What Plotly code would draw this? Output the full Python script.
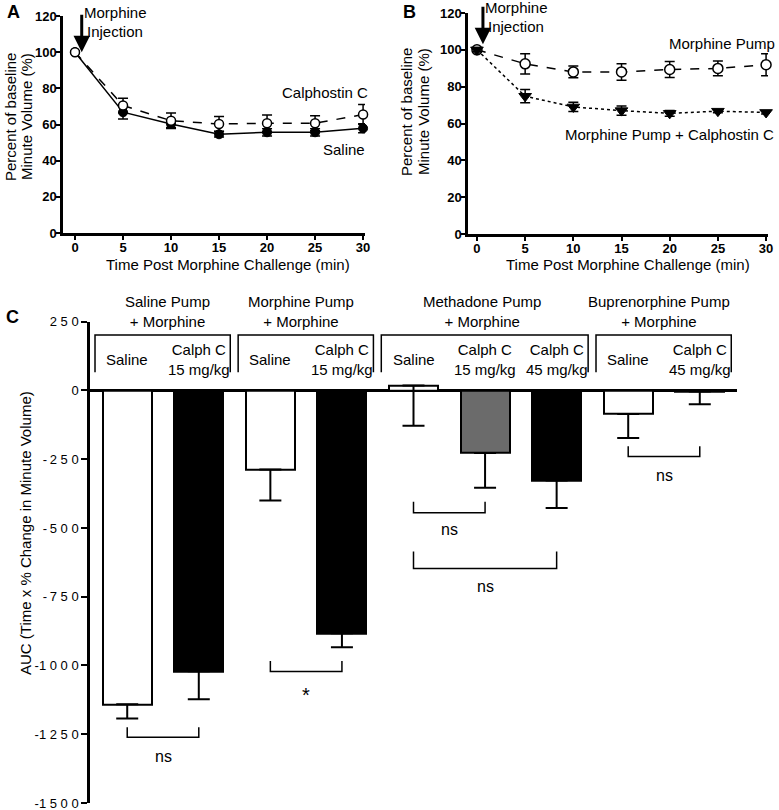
import plotly.graph_objects as go

W, H = 779, 810
FONT = "Arial, 'Liberation Sans', sans-serif"

# ---------------- data ----------------
time_min = [0, 5, 10, 15, 20, 25, 30]

a_saline = [100, 66.8, 60.3, 54.6, 55.7, 55.7, 57.9]
a_saline_err = [0.5, 3.7, 2.0, 1.5, 2.0, 2.0, 2.5]
a_calph = [100, 70.5, 62.1, 60.3, 60.7, 60.7, 65.5]
a_calph_err = [0.5, 4.0, 4.3, 4.1, 4.6, 4.2, 5.5]

b_pump = [100, 92.4, 88.0, 88.0, 89.3, 89.9, 91.9]
b_pump_err = [1.0, 5.5, 3.2, 4.5, 4.3, 4.0, 6.0]
b_pump_calph = [100, 74.8, 69.0, 67.0, 65.5, 66.7, 66.0]
b_pump_calph_err = [1.0, 3.6, 2.5, 2.5, 1.5, 0.8, 0.8]

c_labels = ["Saline", "Calph C<br>15 mg/kg", "Saline", "Calph C<br>15 mg/kg",
            "Saline", "Calph C<br>15 mg/kg", "Calph C<br>45 mg/kg",
            "Saline", "Calph C<br>45 mg/kg"]
c_values = [-1141, -1021, -287, -883, 18, -227, -327, -86, -4]
c_err = [52, 102, 113, 51, 146, 127, 100, 87, 46]
c_colors = ["white", "black", "white", "black", "white", "#6b6b6b", "black", "white", "black"]

c_groups = ["Saline Pump<br>+ Morphine", "Morphine Pump<br>+ Morphine",
            "Methadone Pump<br>+ Morphine", "Buprenorphine Pump<br>+ Morphine"]
c_group_members = [(0, 1), (2, 3), (4, 6), (7, 8)]
c_group_title_px = [167.5, 300.5, 481.7, 659]

# comparisons: (bar i, bar j, label, top of legs, bracket level, label level)
c_sig = [(0, 1, "ns", -1225, -1261, -1332),
         (2, 3, "*", -984, -1022, -1108),
         (4, 5, "ns", -405, -445, -505),
         (4, 6, "ns", -586, -647, -714),
         (7, 8, "ns", -203, -240, -309)]

c_ticks = [250, 0, -250, -500, -750, -1000, -1250, -1500]
c_ticktext = ["2 5 0", "0", "-\u20092 5 0", "-\u20095 0 0", "-\u20097 5 0",
              "-1 0 0 0", "-1 2 5 0", "-1 5 0 0"]


def px(x):
    return x / W


def py(y):
    return 1 - y / H


fig = go.Figure()

# ---------------- Panel A ----------------
fig.add_trace(go.Scatter(
    x=time_min, y=a_saline, xaxis="x", yaxis="y", mode="lines+markers",
    line=dict(color="black", width=1.5),
    marker=dict(symbol="circle", size=9, color="black", line=dict(color="black", width=1)),
    error_y=dict(type="data", array=a_saline_err, color="black", thickness=1.5, width=5),
    cliponaxis=False, showlegend=False))
fig.add_trace(go.Scatter(
    x=time_min, y=a_calph, xaxis="x", yaxis="y", mode="lines+markers",
    line=dict(color="black", width=1.5, dash="dash"),
    marker=dict(symbol="circle", size=9, color="white", line=dict(color="black", width=1.5)),
    error_y=dict(type="data", array=a_calph_err, color="black", thickness=1.5, width=5),
    cliponaxis=False, showlegend=False))

# ---------------- Panel B ----------------
fig.add_trace(go.Scatter(
    x=time_min, y=b_pump, xaxis="x2", yaxis="y2", mode="lines+markers",
    line=dict(color="black", width=1.5, dash="dash"),
    marker=dict(symbol="circle", size=10, color="white", line=dict(color="black", width=1.5)),
    error_y=dict(type="data", array=b_pump_err, color="black", thickness=1.5, width=5),
    cliponaxis=False, showlegend=False))
fig.add_trace(go.Scatter(
    x=time_min, y=b_pump_calph, xaxis="x2", yaxis="y2", mode="lines+markers",
    line=dict(color="black", width=1.5, dash="dot"),
    marker=dict(symbol="triangle-down", size=11, color="black", line=dict(color="black", width=1)),
    error_y=dict(type="data", array=b_pump_calph_err, color="black", thickness=1.5, width=5),
    cliponaxis=False, showlegend=False))

# ---------------- Panel C ----------------
fig.add_trace(go.Bar(
    x=list(range(len(c_values))), y=c_values, xaxis="x3", yaxis="y3",
    width=0.685,
    marker=dict(color=c_colors, line=dict(color="black", width=2)),
    error_y=dict(type="data", symmetric=False, array=[0] * len(c_values),
                 arrayminus=c_err, color="black", thickness=2, width=11),
    showlegend=False))

axis_common = dict(showgrid=False, zeroline=False, showline=True, linecolor="black",
                   linewidth=2.5, ticks="outside", ticklen=4, tickwidth=2, tickcolor="black",
                   automargin=False, ticklabelstandoff=-3,
                   tickfont=dict(family=FONT, size=13, color="black", weight="bold"))

fig.update_layout(
    width=W, height=H, margin=dict(l=0, r=0, t=0, b=0, autoexpand=False),
    paper_bgcolor="white", plot_bgcolor="white",
    font=dict(family=FONT, color="black"),
    bargap=0,
    xaxis=dict(domain=[px(63), px(365)], range=[-1.25, 30.2], tickvals=[0, 5, 10, 15, 20, 25, 30],
               anchor="y", **axis_common),
    yaxis=dict(domain=[py(233), py(16)], range=[0, 120], tickvals=[0, 20, 40, 60, 80, 100, 120],
               anchor="x", **axis_common),
    xaxis2=dict(domain=[px(468), px(768)], range=[-0.93, 30.2], tickvals=[0, 5, 10, 15, 20, 25, 30],
                anchor="y2", **axis_common),
    yaxis2=dict(domain=[py(234), py(13)], range=[0, 120], tickvals=[0, 20, 40, 60, 80, 100, 120],
                anchor="x2", **axis_common),
    xaxis3=dict(domain=[px(90), px(737)], range=[-0.52, 8.52], showgrid=False, showline=False,
                showticklabels=False, ticks="", zeroline=False, anchor="y3", automargin=False),
    yaxis3=dict(domain=[py(803), py(321.7)], range=[-1500, 250], tickvals=c_ticks,
                ticktext=c_ticktext, showgrid=False, showline=True, linecolor="black",
                linewidth=2.5, ticks="outside", ticklen=6, tickwidth=2, tickcolor="black",
                tickfont=dict(family=FONT, size=13, color="black"), automargin=False,
                ticklabeloverflow="allow",
                zeroline=True, zerolinecolor="black", zerolinewidth=2.5, anchor="x3"),
)

ann = []


def text_px(x, y, t, size=15, bold=False, angle=0, xanchor="center"):
    ann.append(dict(x=px(x), y=py(y), xref="paper", yref="paper", text=t, showarrow=False,
                    xanchor=xanchor, yanchor="middle", textangle=angle,
                    font=dict(family=FONT, size=size, color="black",
                              weight="bold" if bold else "normal")))


# panel letters
text_px(13, 12, "A", size=18, bold=True)
text_px(409, 12, "B", size=18, bold=True)
text_px(12, 317, "C", size=18, bold=True)

# axis titles
text_px(228, 264, "Time Post Morphine Challenge (min)")
text_px(11, 117, "Percent of baseline", angle=-90)
text_px(27, 117, "Minute Volume (%)", angle=-90)
text_px(627.5, 264, "Time Post Morphine Challenge (min)")
text_px(406, 112, "Percent of baseline", angle=-90)
text_px(423, 112, "Minute Volume (%)", angle=-90)
text_px(25, 533, "AUC (Time x % Change in Minute Volume)", angle=-90)

# series labels
text_px(115, 12, "Morphine")
text_px(115, 31, "Injection")
text_px(324.5, 92, "Calphostin C")
text_px(343.5, 150, "Saline")
text_px(516, 8, "Morphine")
text_px(516, 26, "Injection")
text_px(722, 43, "Morphine Pump")
text_px(669, 135, "Morphine Pump + Calphostin C")

# arrows
ann.append(dict(x=0.7, y=100, xref="x", yref="y", text="", showarrow=True, ax=0, ay=-39,
                arrowhead=2, arrowsize=1.1, arrowwidth=3, arrowcolor="black"))
ann.append(dict(x=0.62, y=103, xref="x2", yref="y2", text="", showarrow=True, ax=0, ay=-39,
                arrowhead=2, arrowsize=1.1, arrowwidth=3, arrowcolor="black"))

# panel C labels
for i, lab in enumerate(c_labels):
    ann.append(dict(x=i, y=114, xref="x3", yref="y3", text=lab, showarrow=False,
                    xanchor="center", yanchor="middle",
                    font=dict(family=FONT, size=15, color="black")))
for gx, g in zip(c_group_title_px, c_groups):
    text_px(gx, 311, g)

shapes = []
for (i0, i1) in c_group_members:
    x0, x1 = i0 - 0.45, i1 + 0.44
    shapes.append(dict(type="path", xref="x3", yref="y3",
                       path=f"M {x0},66 L {x0},202 L {x1},202 L {x1},66",
                       line=dict(color="black", width=1.5)))

for (i, j, lab, ytop, ylev, ylab) in c_sig:
    shapes.append(dict(type="path", xref="x3", yref="y3",
                       path=f"M {i},{ytop} L {i},{ylev} L {j},{ylev} L {j},{ytop}",
                       line=dict(color="black", width=1.5)))
    ann.append(dict(x=(i + j) / 2, y=ylab, xref="x3", yref="y3", text=lab, showarrow=False,
                    xanchor="center", yanchor="middle",
                    font=dict(family=FONT, size=20 if lab == "*" else 16, color="black")))

fig.update_layout(annotations=ann, shapes=shapes)

fig.write_html("out.html", config={"displayModeBar": False},
               post_script="document.body.style.margin='0px';")
